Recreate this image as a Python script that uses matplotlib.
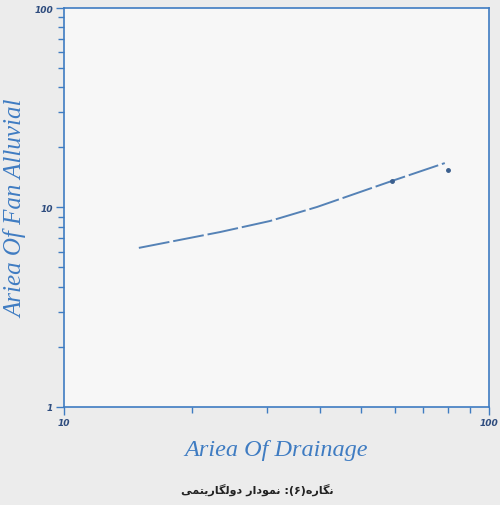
import matplotlib.pyplot as plt
from matplotlib.ticker import LogLocator, NullFormatter

# values
drain_area = [15.0, 23.3, 30.5, 39.4, 59.2, 78.7]
fan_area = [6.27, 7.53, 8.55, 10.06, 13.6, 16.7]
obs_drain = [59.2, 80.2]
obs_fan = [13.6, 15.4]
x_ticks = [10, 100]
y_ticks = [1, 10, 100]

caption = "نگاره(۶): نمودار دولگاریتمی"

# matplotlib has no arabic shaping, so pick the presentation forms by hand
# (isolated, final, initial, medial)
forms = {
    "ن": "\uFEE5\uFEE6\uFEE7\uFEE8",
    "گ": "\uFB92\uFB93\uFB94\uFB95",
    "ا": "\uFE8D\uFE8E\uFE8D\uFE8E",
    "ر": "\uFEAD\uFEAE\uFEAD\uFEAE",
    "ه": "\uFEE9\uFEEA\uFEEB\uFEEC",
    "م": "\uFEE1\uFEE2\uFEE3\uFEE4",
    "و": "\uFEED\uFEEE\uFEED\uFEEE",
    "د": "\uFEA9\uFEAA\uFEA9\uFEAA",
    "ل": "\uFEDD\uFEDE\uFEDF\uFEE0",
    "ی": "\uFBFC\uFBFD\uFBFE\uFBFF",
    "ت": "\uFE95\uFE96\uFE97\uFE98",
}
right_only = set("اردو")
mirror = {"(": ")", ")": "("}


def shape(text):
    out = []
    for i, c in enumerate(text):
        if c not in forms:
            out.append(mirror.get(c, c))
            continue
        prev = text[i - 1] if i > 0 else ""
        nxt = text[i + 1] if i + 1 < len(text) else ""
        joins_prev = prev in forms and prev not in right_only
        joins_next = nxt in forms and c not in right_only
        idx = {(False, False): 0, (True, False): 1, (False, True): 2, (True, True): 3}[(joins_prev, joins_next)]
        out.append(forms[c][idx])
    return "".join(out)[::-1]


blue = "#3f7cc2"
tick_col = "#2e4c7e"

fig = plt.figure(figsize=(5.0, 5.06), dpi=100, facecolor="#ececec")
ax = fig.add_axes([0.128, 0.194, 0.850, 0.788])
ax.set_facecolor("#f7f7f7")

ax.plot(drain_area, fan_area, color="#5582b6", lw=1.4, dashes=(16, 2))
ax.plot(obs_drain, obs_fan, ls="none", marker="o", ms=2.5, color="#3b5f8e")

ax.set_xscale("log")
ax.set_yscale("log")
ax.set_xlim(10, 100)
ax.set_ylim(1, 100)

ax.set_xticks(x_ticks, [str(v) for v in x_ticks])
ax.set_yticks(y_ticks, [str(v) for v in y_ticks])
ax.xaxis.set_minor_locator(LogLocator(base=10, subs=range(2, 10)))
ax.yaxis.set_minor_locator(LogLocator(base=10, subs=range(2, 10)))
ax.xaxis.set_minor_formatter(NullFormatter())
ax.yaxis.set_minor_formatter(NullFormatter())
ax.tick_params(which="both", direction="out", color=blue, width=1.0)
ax.tick_params(which="major", length=6, pad=2, labelsize=6.5, labelcolor=tick_col)
ax.tick_params(which="minor", length=4)
for lab in ax.get_xticklabels() + ax.get_yticklabels():
    lab.set_fontweight("bold")
    lab.set_fontstyle("italic")

for s in ax.spines.values():
    s.set_color(blue)
    s.set_linewidth(1.2)

ax.set_xlabel("Ariea Of Drainage", family="Liberation Serif", style="italic",
              fontsize=17.5, color=blue, labelpad=9)
ax.set_ylabel("Ariea Of Fan Alluvial", family="Liberation Serif", style="italic",
              fontsize=18, color=blue, labelpad=5)

fig.text(0.515, 0.032, shape(caption), ha="center", va="center",
         fontsize=8, fontweight="bold", family="DejaVu Sans", color="#222222")

fig.savefig("out.png", dpi=100, facecolor=fig.get_facecolor())
